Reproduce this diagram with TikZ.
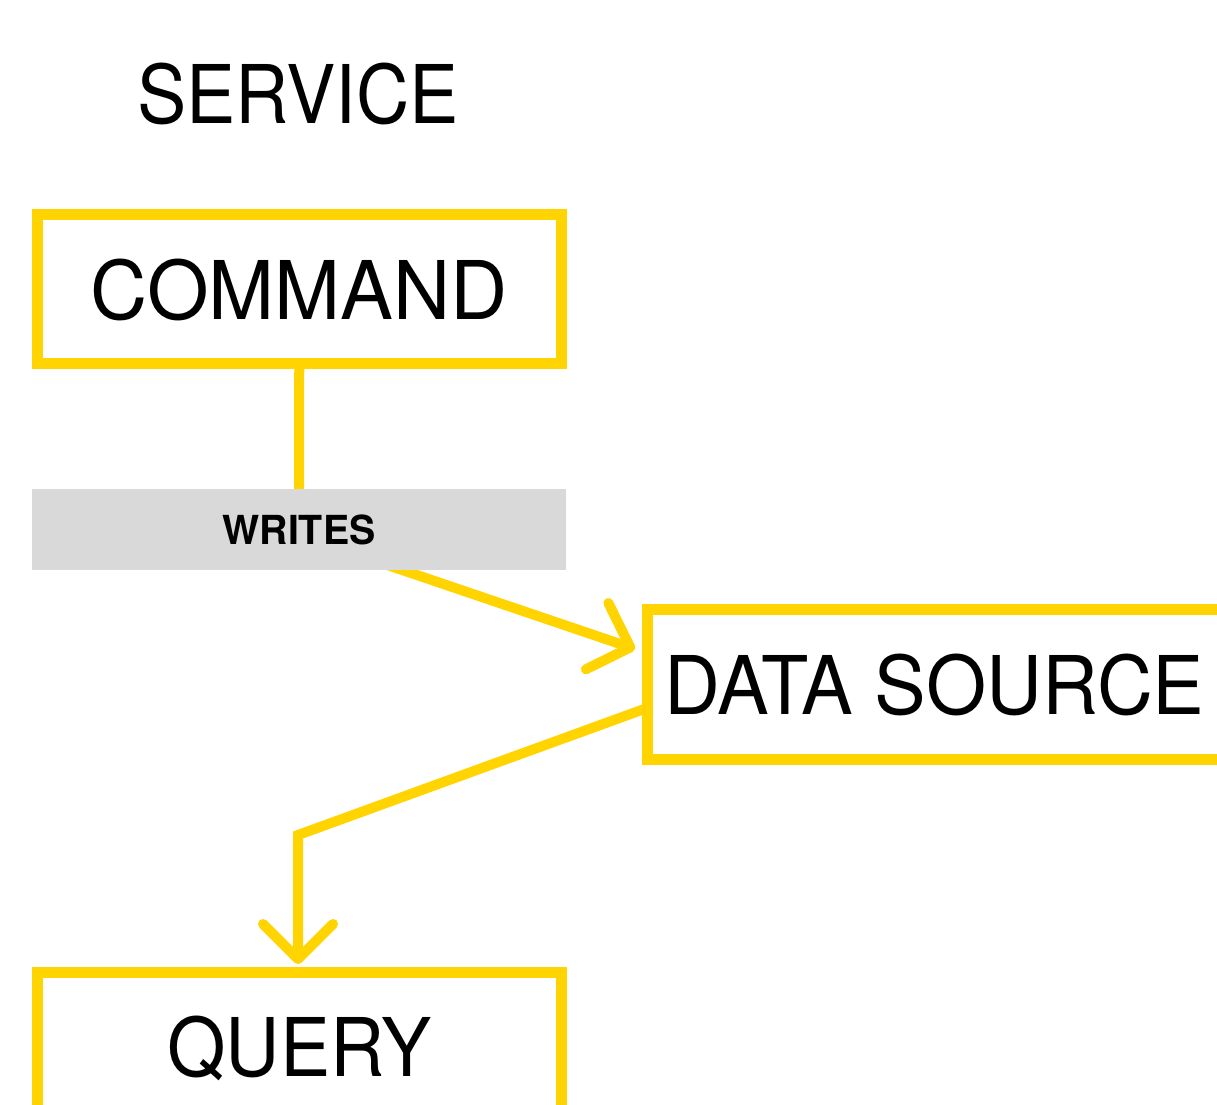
\documentclass[tikz,border=0pt]{standalone}
\usepackage{graphicx}
\usepackage{fontspec}
\setmainfont{TeX Gyre Heros}
\usetikzlibrary{arrows.meta,calc}
\definecolor{ybox}{RGB}{255,212,0}
\definecolor{glabel}{RGB}{217,217,217}
\newcommand\bigfont{\fontsize{81pt}{81pt}\selectfont}
\newcommand\labfont{\fontsize{40pt}{40pt}\selectfont\bfseries}
\newcommand\fitw[2]{\resizebox{#1}{\height}{#2}}
\tikzset{
  boxnode/.style={draw=ybox, line width=11pt, inner sep=0pt, font=\bigfont, text depth=0pt},
  conn/.style={draw=ybox, line width=10pt, line join=miter},
  tipped/.style={-{Straight Barb[length=35pt,width=70pt,round]}},
  glab/.style={fill=glabel, inner sep=0pt, minimum width=534pt, minimum height=81pt, font=\labfont, text depth=0pt},
  title/.style={inner sep=0pt, font=\bigfont, text depth=0pt}
}
\begin{document}
\begin{tikzpicture}[x=1pt,y=-1pt]
\useasboundingbox (0,0) rectangle (1217,1104);
\clip (0,0) rectangle (1217,1104);
\node[title] (svc) at (298,93) {\fitw{321pt}{SERVICE}};
\node[boxnode, minimum width=523.5pt, minimum height=149pt] (cmd) at (299.25,289) {\fitw{417pt}{COMMAND}};
\node[boxnode, minimum width=575pt, minimum height=150pt] (ds) at (934.5,684) {\fitw{540pt}{DATA SOURCE}};
\node[boxnode, minimum width=523.5pt, minimum height=149pt] (qry) at (299.25,1046.5) {\fitw{264pt}{QUERY}};
\coordinate (bend1) at (299,535);
\coordinate (tip1) at (635,649);
\draw[conn, tipped] (cmd.south) -- (bend1) -- (tip1);
\node[glab] (wr) at (299,529.5) {\fitw{153pt}{WRITES}};
\coordinate (start2) at ($(ds.west)+(5.5,24)$);
\coordinate (bend2) at (298,835);
\coordinate (tip2) at (298,964);
\draw[conn, tipped] (start2) -- (bend2) -- (tip2);
\end{tikzpicture}
\end{document}
